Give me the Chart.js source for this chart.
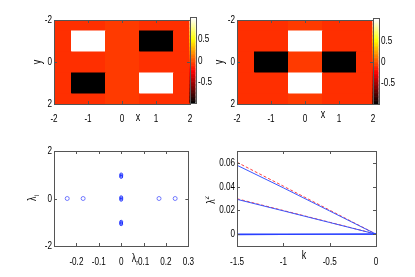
<!DOCTYPE html>
<html><head><meta charset="utf-8">
<script src="https://cdn.jsdelivr.net/npm/chart.js@4/dist/chart.umd.min.js"></script>
<style>
html,body{margin:0;padding:0;background:#fff;}
body{width:415px;height:277px;position:relative;overflow:hidden;}
canvas{position:absolute;}
</style></head><body>
<canvas id="c1" width="230" height="138" style="left:0;top:0"></canvas>
<canvas id="c2" width="210" height="138" style="left:205px;top:0"></canvas>
<canvas id="c3" width="205" height="139" style="left:0;top:138px"></canvas>
<canvas id="c4" width="210" height="139" style="left:205px;top:138px"></canvas>
<script>
// ---------- data ----------
const cellX = [-2, -1, 0, 1, 2];
const cellY = [-2, -1, 0, 1, 2];
// rows: y = -2 .. 2 ; columns: x = -2 .. 2
const fieldA = [
  [-0.10, -0.09, -0.06, -0.09, -0.10],
  [-0.09,  1.00, -0.06, -0.97, -0.09],
  [-0.10, -0.09, -0.06, -0.09, -0.10],
  [-0.09, -0.97, -0.06,  1.00, -0.09],
  [-0.10, -0.09, -0.06, -0.09, -0.10]
];
const fieldB = [
  [-0.09, -0.10, -0.07, -0.10, -0.09],
  [-0.09, -0.10,  1.03, -0.09, -0.09],
  [-0.08, -0.99, -0.07, -0.99, -0.08],
  [-0.09, -0.10,  1.03, -0.09, -0.09],
  [-0.09, -0.10, -0.07, -0.10, -0.09]
];
const climA = [-0.97, 1.01];
const climB = [-0.99, 1.04];
const heatXTicks = [-2, -1, 0, 1, 2];
const heatYTicks = [-2, 0, 2];
const cbTicks = [-0.5, 0, 0.5];

const outerRe = [-0.241, -0.170, 0.169, 0.241];
const outerIm = [0, 0, 0, 0];
const innerRe = [0, 0, 0, 0, 0, 0, 0, 0, 0];
const innerIm = [1.01, 0.96, 0.91, 0.05, 0, -0.05, -0.98, -1.03, -1.08];
const eigXTicks = [-0.2, -0.1, 0, 0.1, 0.2, 0.3];
const eigYTicks = [-2, 0, 2];

const kVals = [-1.5, -1, -0.5, 0];
const blueHigh = [0.0580, 0.0390, 0.0195, 0];
const redHigh  = [0.0605, 0.0404, 0.0202, 0];
const blueMid  = [0.0293, 0.0196, 0.0098, 0];
const redMid   = [0.0298, 0.0199, 0.0100, 0];
const blueZero = [0, 0, 0, 0];
const blueZero2 = [-0.0004, -0.0003, -0.0001, 0];
const kTicks = [-1.5, -1, -0.5, 0];
const lamSqTicks = [0, 0.02, 0.04, 0.06];

// ---------- text look: narrow Helvetica-like glyphs ----------
const SQUEEZE = 0.74;
const _fillText = CanvasRenderingContext2D.prototype.fillText;
CanvasRenderingContext2D.prototype.fillText = function (t, x, y, mw) {
  const w = this.measureText(t).width * SQUEEZE;
  return _fillText.call(this, t, x, y, (mw !== undefined && mw !== null) ? Math.min(mw, w) : w);
};

const FONT = "'Liberation Sans',Arial,sans-serif";
Chart.defaults.font.family = FONT;
Chart.defaults.font.size = 11;
Chart.defaults.color = '#000';

function hot(f) {
  f = Math.max(0, Math.min(1, f));
  f = Math.round(f * 63) / 63;
  const r = Math.min(1, f / 0.375);
  const g = Math.max(0, Math.min(1, (f - 0.375) / 0.375));
  const b = Math.max(0, Math.min(1, (f - 0.75) / 0.25));
  return 'rgb(' + Math.round(r * 255) + ',' + Math.round(g * 255) + ',' + Math.round(b * 255) + ')';
}
function cells(field) {
  const out = [];
  field.forEach((row, i) => row.forEach((v, j) => out.push({ x: cellX[j], y: cellY[i], v: v })));
  return out;
}
function fixedTicks(arr) { return s => { s.ticks = arr.map(v => ({ value: v })); }; }
function fmt(v) { return String(+(+v).toFixed(4)); }

function heatPlugin(clim) {
  return {
    id: 'heat',
    beforeDatasetsDraw(chart) {
      const { ctx, chartArea: a, scales: { x, y, cb } } = chart;
      ctx.save();
      ctx.beginPath(); ctx.rect(a.left, a.top, a.right - a.left, a.bottom - a.top); ctx.clip();
      chart.data.datasets[0].data.forEach(p => {
        const x0 = x.getPixelForValue(p.x - 0.5), x1 = x.getPixelForValue(p.x + 0.5);
        const y0 = y.getPixelForValue(p.y - 0.5), y1 = y.getPixelForValue(p.y + 0.5);
        ctx.fillStyle = hot((p.v - clim[0]) / (clim[1] - clim[0]));
        ctx.fillRect(Math.min(x0, x1), Math.min(y0, y1), Math.abs(x1 - x0) + 0.6, Math.abs(y1 - y0) + 0.6);
      });
      ctx.restore();
      // colorbar
      const L = a.right - 0.5, W = 6, n = 64;
      ctx.save();
      for (let k = 0; k < n; k++) {
        const v0 = clim[0] + (clim[1] - clim[0]) * k / n;
        const v1 = clim[0] + (clim[1] - clim[0]) * (k + 1) / n;
        const p0 = cb.getPixelForValue(v0), p1 = cb.getPixelForValue(v1);
        ctx.fillStyle = hot((k + 0.5) / n);
        ctx.fillRect(L, p1, W, p0 - p1 + 0.6);
      }
      const top = cb.getPixelForValue(clim[1]), bot = cb.getPixelForValue(clim[0]);
      ctx.strokeStyle = '#555'; ctx.lineWidth = 1;
      ctx.strokeRect(Math.round(L) + 0.5, Math.round(top) + 0.5, W, Math.round(bot - top));
      ctx.restore();
    }
  };
}
const framePlugin = {
  id: 'frame',
  afterDatasetsDraw(chart) {
    const { ctx, chartArea: a, scales: { x, y } } = chart;
    ctx.save();
    ctx.strokeStyle = '#555'; ctx.lineWidth = 1;
    ctx.beginPath();
    x.ticks.forEach(t => {
      const p = Math.round(x.getPixelForValue(t.value)) + 0.5;
      if (p <= a.left + 1 || p >= a.right - 1) return;
      ctx.moveTo(p, a.bottom); ctx.lineTo(p, a.bottom - 3);
      ctx.moveTo(p, a.top); ctx.lineTo(p, a.top + 3);
    });
    y.ticks.forEach(t => {
      const p = Math.round(y.getPixelForValue(t.value)) + 0.5;
      if (p <= a.top + 1 || p >= a.bottom - 1) return;
      ctx.moveTo(a.left, p); ctx.lineTo(a.left + 3, p);
      ctx.moveTo(a.right, p); ctx.lineTo(a.right - 3, p);
    });
    ctx.stroke();
    ctx.strokeRect(Math.round(a.left) + 0.5, Math.round(a.top) + 0.5, Math.round(a.right - a.left), Math.round(a.bottom - a.top));
    ctx.restore();
  }
};
function labelPlugin(list) {
  return {
    id: 'labels',
    afterDraw(chart) {
      const ctx = chart.ctx;
      list.forEach(l => {
        ctx.save();
        ctx.translate(l.x, l.y);
        if (l.rot) ctx.rotate(l.rot);
        ctx.fillStyle = '#000';
        ctx.textBaseline = 'middle';
        ctx.font = '12px ' + FONT;
        const w = ctx.measureText(l.t).width * SQUEEZE;
        let w2 = 0;
        ctx.font = '8px ' + FONT;
        if (l.sub || l.sup) w2 = ctx.measureText(l.sub || l.sup).width * SQUEEZE;
        const x0 = -(w + w2) / 2;
        ctx.font = '12px ' + FONT;
        ctx.textAlign = 'left';
        ctx.fillText(l.t, x0, 0);
        ctx.font = '8px ' + FONT;
        if (l.sub) ctx.fillText(l.sub, x0 + w, 4);
        if (l.sup) ctx.fillText(l.sup, x0 + w, -5);
        ctx.restore();
      });
    }
  };
}
const noGrid = { display: false, drawTicks: false };
const noBorder = { display: false };
const baseOpts = {
  responsive: false, animation: false, events: [],
  plugins: { legend: { display: false }, tooltip: { enabled: false } }
};

function heatChart(id, field, clim, cbRange, geom, labels) {
  return new Chart(document.getElementById(id), {
    type: 'scatter',
    data: { datasets: [{ data: cells(field), pointRadius: 0 }] },
    options: Object.assign({}, baseOpts, {
      layout: { padding: { top: geom.top, left: 0, right: 0, bottom: 0 } },
      scales: {
        x: { type: 'linear', min: -2, max: 2, grid: noGrid, border: noBorder,
             afterBuildTicks: fixedTicks(heatXTicks),
             ticks: { padding: 8, autoSkip: false, maxRotation: 0, callback: fmt },
             afterFit: s => { s.height = geom.xh; } },
        y: { type: 'linear', reverse: true, min: -2, max: 2, grid: noGrid, border: noBorder,
             afterBuildTicks: fixedTicks(heatYTicks),
             ticks: { padding: 2, callback: fmt },
             afterFit: s => { s.width = geom.yw; } },
        cb: { type: 'linear', position: 'right', min: cbRange[0], max: cbRange[1], grid: noGrid, border: noBorder,
              afterBuildTicks: fixedTicks(cbTicks),
              ticks: { padding: 8, callback: fmt },
              afterFit: s => { s.width = geom.cbw; } }
      }
    }),
    plugins: [heatPlugin(clim), framePlugin, labelPlugin(labels)]
  });
}

heatChart('c1', fieldA, climA, [-0.998, 0.938], { top: 20, xh: 34, yw: 54, cbw: 40 },
  [{ t: 'y', x: 38, y: 62, rot: -Math.PI / 2 }, { t: 'x', x: 138, y: 118 }]);
heatChart('c2', fieldB, climB, [-0.986, 1.0], { top: 20, xh: 34, yw: 32, cbw: 42 },
  [{ t: 'y', x: 15, y: 62, rot: -Math.PI / 2 }, { t: 'x', x: 118, y: 115 }]);

// eigenvalue plane
new Chart(document.getElementById('c3'), {
  type: 'scatter',
  data: { datasets: [
    { data: outerRe.map((v, i) => ({ x: v, y: outerIm[i] })), pointRadius: 2, pointBorderWidth: 1,
      borderColor: 'rgba(90,100,255,0.85)', backgroundColor: 'rgba(0,0,0,0)' },
    { data: innerRe.map((v, i) => ({ x: v, y: innerIm[i] })), pointRadius: 1.5, pointBorderWidth: 1,
      borderColor: 'rgba(20,40,255,0.85)', backgroundColor: 'rgba(0,0,0,0)' }
  ] },
  options: Object.assign({}, baseOpts, {
    layout: { padding: { top: 13, left: 0, right: 12, bottom: 0 } },
    scales: {
      x: { type: 'linear', min: -0.3, max: 0.3, grid: noGrid, border: noBorder,
           afterBuildTicks: fixedTicks(eigXTicks),
           ticks: { padding: 9, autoSkip: false, maxRotation: 0, callback: fmt },
           afterFit: s => { s.height = 31; } },
      y: { type: 'linear', min: -2, max: 2, grid: noGrid, border: noBorder,
           afterBuildTicks: fixedTicks(eigYTicks),
           ticks: { padding: 2, callback: fmt },
           afterFit: s => { s.width = 54; } }
    }
  }),
  plugins: [framePlugin, labelPlugin([
    { t: 'λ', sub: 'i', x: 33, y: 60, rot: -Math.PI / 2 },
    { t: 'λ', sub: 'r', x: 135, y: 121 }
  ])]
});

// lambda^2 vs k
function line(vals, color, dash, w) {
  return { type: 'line', data: kVals.map((k, i) => ({ x: k, y: vals[i] })), borderColor: color,
           borderWidth: w || 1, borderDash: dash || [], pointRadius: 0, fill: false, tension: 0 };
}
new Chart(document.getElementById('c4'), {
  type: 'scatter',
  data: { datasets: [
    line(blueZero2, '#2a40ff', null, 1.2),
    line(blueZero, '#2a40ff', null, 1.2),
    line(blueHigh, '#3a55ff'),
    line(blueMid, '#3a55ff'),
    line(redHigh, '#ff4040', [3, 2]),
    line(redMid, '#ff4040', [3, 2])
  ] },
  options: Object.assign({}, baseOpts, {
    layout: { padding: { top: 13, left: 0, right: 39, bottom: 0 } },
    scales: {
      x: { type: 'linear', min: -1.5, max: 0, grid: noGrid, border: noBorder,
           afterBuildTicks: fixedTicks(kTicks),
           ticks: { padding: 9, autoSkip: false, maxRotation: 0, callback: fmt },
           afterFit: s => { s.height = 31; } },
      y: { type: 'linear', min: -0.01, max: 0.07, grid: noGrid, border: noBorder,
           afterBuildTicks: fixedTicks(lamSqTicks),
           ticks: { padding: 2, callback: fmt },
           afterFit: s => { s.width = 32; } }
    }
  }),
  plugins: [framePlugin, labelPlugin([
    { t: 'λ', sup: '2', x: 7, y: 62, rot: -Math.PI / 2 },
    { t: 'k', x: 99, y: 118 }
  ])]
});
</script>
</body></html>
